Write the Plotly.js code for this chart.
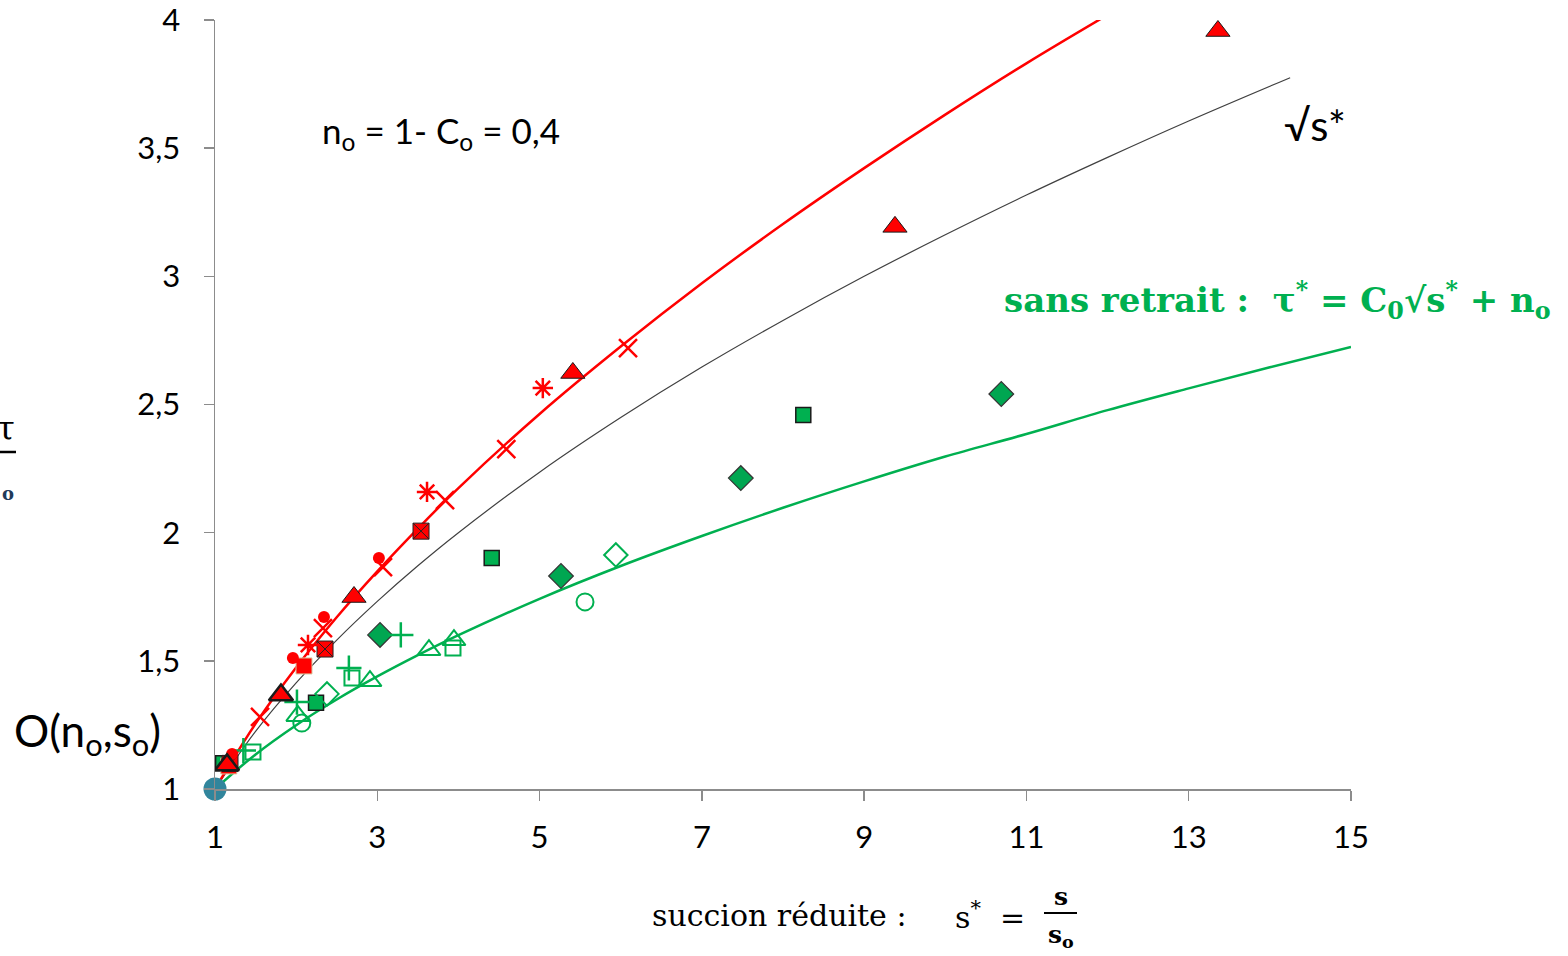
<!DOCTYPE html>
<html>
<head>
<meta charset="utf-8">
<script src="https://cdn.plot.ly/plotly-3.0.1.min.js"></script>
<style>html,body{margin:0;padding:0;background:#fff;}#chart{width:1568px;height:956px;}</style>
</head>
<body>
<div id="chart"></div>
<script>
// ---- curves ----
var curveRedX = [1, 1.5, 2, 2.5, 3, 3.5, 4, 5, 6, 7, 8, 9, 10, 11, 12];
var curveRedY = [1, 1.255, 1.474, 1.670, 1.849, 2.016, 2.174, 2.463, 2.726, 2.973, 3.204, 3.422, 3.631, 3.831, 4.02];
var curveSqrtX = [1, 1.5, 2, 2.5, 3, 3.5, 4, 5, 6, 7, 8, 9, 10, 11, 12, 13, 14.25];
var curveSqrtY = [1, 1.225, 1.414, 1.581, 1.732, 1.871, 2.0, 2.236, 2.449, 2.646, 2.828, 3.0, 3.162, 3.317, 3.464, 3.606, 3.775];
var curveGreenX = [1, 1.5, 2, 2.5, 3, 3.5, 4, 5, 6, 7, 8, 9, 10, 11, 12, 13, 14, 15];
var curveGreenY = [1, 1.135, 1.249, 1.349, 1.439, 1.522, 1.6, 1.742, 1.870, 1.987, 2.097, 2.2, 2.297, 2.385, 2.478, 2.563, 2.645, 2.724];

// ---- red series ----
var redTriX = [13.36, 9.38, 5.41, 2.713, 1.813, 1.148];
var redTriY = [3.957, 3.193, 2.623, 1.749, 1.367, 1.094];
var redSqXX = [3.539, 2.356, 1.185];
var redSqXY = [2.006, 1.546, 1.10];
var redSqX = [2.097, 1.17];
var redSqY = [1.48, 1.09];
var redDotX = [1.21, 1.96, 2.343, 3.02];
var redDotY = [1.137, 1.511, 1.671, 1.901];
var redCrossX = [1.555, 2.33, 3.07, 3.835, 4.59, 6.09];
var redCrossY = [1.281, 1.628, 1.866, 2.127, 2.326, 2.72];
var redStarX = [2.146, 3.613, 5.04];
var redStarY = [1.562, 2.159, 2.564];

// ---- green series ----
var grDiaX = [10.69, 7.48, 5.264, 3.034];
var grDiaY = [2.541, 2.213, 1.831, 1.601];
var grSqX = [8.25, 4.41, 2.245, 1.10];
var grSqY = [2.459, 1.901, 1.336, 1.10];
var grDiaOpenX = [5.94, 2.38];
var grDiaOpenY = [1.913, 1.371];
var grCircOpenX = [5.56, 2.07];
var grCircOpenY = [1.73, 1.257];
var grTriOpenX = [3.945, 3.637, 2.91, 2.02];
var grTriOpenY = [1.581, 1.542, 1.421, 1.285];
var grSqOpenX = [3.933, 2.688, 1.468];
var grSqOpenY = [1.55, 1.433, 1.144];
var grPlusX = [3.29, 2.65, 2.01, 1.35];
var grPlusY = [1.601, 1.472, 1.339, 1.15];

var originX = [1];
var originY = [1];

var xTicks = [1, 3, 5, 7, 9, 11, 13, 15];
var yTicks = [1, 1.5, 2, 2.5, 3, 3.5, 4];

var RED = '#ff0000', GREEN = '#00b050';

function mk(x, y, sym, size, color, lineColor, lineWidth) {
  return {x: x, y: y, type: 'scatter', mode: 'markers', cliponaxis: false, showlegend: false,
    marker: {symbol: sym, size: size, color: color, line: {color: lineColor, width: lineWidth}}};
}

var traces = [
  {x: curveSqrtX, y: curveSqrtY, type: 'scatter', mode: 'lines', line: {color: '#404040', width: 1.2, shape: 'spline'}, showlegend: false},
  {x: curveGreenX, y: curveGreenY, type: 'scatter', mode: 'lines', line: {color: GREEN, width: 2.5, shape: 'spline'}, showlegend: false},
  {x: curveRedX, y: curveRedY, type: 'scatter', mode: 'lines', line: {color: RED, width: 2.5, shape: 'spline'}, showlegend: false},
  mk(grDiaX, grDiaY, 'diamond', 19, '#00a651', '#333333', 1.2),
  mk(grSqX, grSqY, 'square', 15, GREEN, '#1a1a1a', 1.5),
  mk(grDiaOpenX, grDiaOpenY, 'diamond-open', 18, GREEN, GREEN, 2),
  mk(grCircOpenX, grCircOpenY, 'circle-open', 17, GREEN, GREEN, 2),
  mk(grTriOpenX, grTriOpenY, 'triangle-up-open', 20, GREEN, GREEN, 2),
  mk(grSqOpenX, grSqOpenY, 'square-open', 15, GREEN, GREEN, 2),
  mk(grPlusX, grPlusY, 'cross-thin-open', 18, GREEN, GREEN, 2.5),
  mk(redSqX, redSqY, 'square', 16, RED, '#d8c8a0', 1),
  mk(redSqXX, redSqXY, 'square-x', 16, RED, '#222222', 1),
  mk(redDotX, redDotY, 'circle', 12, RED, RED, 0),
  mk(redCrossX, redCrossY, 'x-thin-open', 18, RED, RED, 2.5),
  mk(redStarX, redStarY, 'asterisk-open', 17, RED, RED, 2.5),
  {x: redTriX, y: redTriY, type: 'scatter', mode: 'markers', cliponaxis: false, showlegend: false,
    marker: {symbol: 'triangle-up', size: 21, color: RED, line: {color: '#1a1a1a', width: [1, 1, 1, 1, 2.5, 2.5]}}},
  mk(originX, originY, 'circle', 23, '#31859c', '#31859c', 0)
];

var SERIF = 'DejaVu Serif, Liberation Serif, serif';
var SANS = 'Lato, Open Sans, sans-serif';
function px2x(p) { return (p - 215) / 1136; }
function py2y(p) { return (789 - p) / 769; }

var layout = {
  width: 1568, height: 956,
  margin: {l: 215, r: 217, t: 20, b: 167},
  paper_bgcolor: '#ffffff', plot_bgcolor: '#ffffff',
  separators: ', ',
  showlegend: false,
  xaxis: {range: [1, 15], tickvals: xTicks, showgrid: false, zeroline: false,
    showline: true, linecolor: '#8c8c8c', linewidth: 1.5, ticks: 'outside', ticklen: 10, tickcolor: '#8c8c8c', tickwidth: 1.5,
    tickfont: {family: SANS, size: 31, color: '#000'}, ticklabelstandoff: 10, ticklabeloverflow: 'allow'},
  yaxis: {range: [1, 4], tickvals: yTicks, showgrid: false, zeroline: false,
    showline: true, linecolor: '#8c8c8c', linewidth: 1.5, ticks: 'outside', ticklen: 10, tickcolor: '#8c8c8c', tickwidth: 1.5,
    tickfont: {family: SANS, size: 31, color: '#000'}, ticklabelstandoff: 17, ticklabeloverflow: 'allow'},
  annotations: [
    {xref: 'paper', yref: 'paper', x: px2x(320), y: py2y(133), xanchor: 'left', yanchor: 'middle', showarrow: false,
      text: 'n<sub>o</sub> = 1- C<sub>o</sub> = 0,4', font: {family: SANS, size: 35, color: '#000'}},
    {xref: 'paper', yref: 'paper', x: px2x(1282), y: py2y(125), xanchor: 'left', yanchor: 'middle', showarrow: false,
      text: '√s*', font: {family: SANS, size: 42, color: '#000'}},
    {xref: 'paper', yref: 'paper', x: px2x(1002), y: py2y(300), xanchor: 'left', yanchor: 'middle', showarrow: false,
      text: '<b>sans retrait :  τ<sup>*</sup> = C<sub>0</sub>√s<sup>*</sup> + n<sub>o</sub></b>', font: {family: SERIF, size: 34, color: GREEN}},
    {xref: 'paper', yref: 'paper', x: px2x(1042), y: py2y(4), xanchor: 'right', yanchor: 'bottom', showarrow: false,
      text: '<b>avec retrait :  τ<sup>*</sup> = (s*)</b>', font: {family: SERIF, size: 30, color: RED}},
    {xref: 'paper', yref: 'paper', x: px2x(650), y: py2y(915), xanchor: 'left', yanchor: 'middle', showarrow: false,
      text: 'succion réduite :', font: {family: SERIF, size: 30, color: '#000'}},
    {xref: 'paper', yref: 'paper', x: px2x(953), y: py2y(915), xanchor: 'left', yanchor: 'middle', showarrow: false,
      text: 's<sup>*</sup>  =', font: {family: SERIF, size: 30, color: '#000'}},
    {xref: 'paper', yref: 'paper', x: px2x(1061), y: py2y(896), xanchor: 'center', yanchor: 'middle', showarrow: false,
      text: '<b>s</b>', font: {family: SERIF, size: 25, color: '#000'}},
    {xref: 'paper', yref: 'paper', x: px2x(1061), y: py2y(936), xanchor: 'center', yanchor: 'middle', showarrow: false,
      text: '<b>s<sub>o</sub></b>', font: {family: SERIF, size: 25, color: '#000'}},
    {xref: 'paper', yref: 'paper', x: px2x(12), y: py2y(733), xanchor: 'left', yanchor: 'middle', showarrow: false,
      text: 'O(n<sub>o</sub>,s<sub>o</sub>)', font: {family: SANS, size: 44, color: '#000'}},
    {xref: 'paper', yref: 'paper', x: px2x(17), y: py2y(428), xanchor: 'right', yanchor: 'middle', showarrow: false,
      text: 'τ', font: {family: SERIF, size: 34, color: '#000'}},
    {xref: 'paper', yref: 'paper', x: px2x(16), y: py2y(493), xanchor: 'right', yanchor: 'middle', showarrow: false,
      text: '<b>o</b>', font: {family: SERIF, size: 18, color: '#1f3a5a'}}
  ],
  shapes: [
    {type: 'line', xref: 'paper', yref: 'paper', x0: px2x(1044), x1: px2x(1077), y0: py2y(913), y1: py2y(913), line: {color: '#000', width: 2}},
    {type: 'line', xref: 'paper', yref: 'paper', x0: px2x(-5), x1: px2x(16), y0: py2y(452), y1: py2y(452), line: {color: '#000', width: 2.5}}
  ]
};

Plotly.newPlot('chart', traces, layout, {displayModeBar: false, staticPlot: true});
</script>
</body>
</html>
